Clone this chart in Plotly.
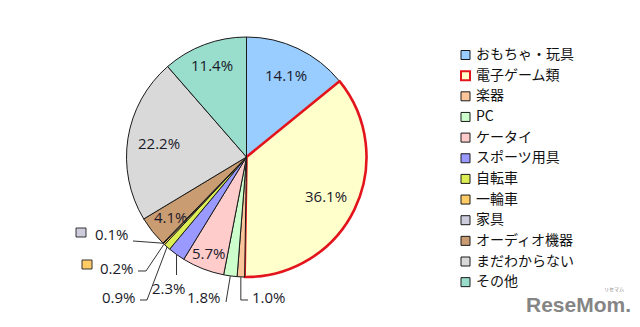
import math
import plotly.graph_objects as go

# ---------------- data ----------------
labels = ["おもちゃ・玩具", "電子ゲーム類", "楽器", "PC", "ケータイ", "スポーツ用具",
          "自転車", "一輪車", "家具", "オーディオ機器", "まだわからない", "その他"]
values = [14.1, 36.1, 1.0, 1.8, 5.7, 2.3, 0.9, 0.2, 0.1, 4.1, 22.2, 11.4]
pct_text = ["14.1%", "36.1%", "1.0%", "1.8%", "5.7%", "2.3%", "0.9%", "0.2%", "0.1%",
            "4.1%", "22.2%", "11.4%"]

# ---------------- style ----------------
colors = ["#99CCFF", "#FFFFCC", "#FAC59A", "#CCFFCC", "#FFCCCC", "#9999FF",
          "#DDEE55", "#FFCC66", "#CCCCDD", "#C99C72", "#D9D9D9", "#99DDCC"]
line_colors = ["#1a1a1a"] * len(values)
line_colors[1] = "#E3141B"
line_widths = [1] * len(values)
line_widths[1] = 2.6

W, H = 640, 327
CX, CY, R = 246.5, 157.0, 120.0
TXT = "#1a1a2a"
NUMFONT = "Open Sans, DejaVu Sans, sans-serif"
JPFONT = "Noto Sans CJK JP, sans-serif"


def px(x):
    return x / W


def py(y):
    return 1 - y / H


# radial fraction for inside labels (None = outside label)
inside_r = [0.76, 0.74, None, None, 0.86, None, None, None, None, 0.80, 0.74, 0.82]

# outside labels: index -> (leader points after the slice edge, text x, text y, anchor)
outside = {
    2: ([(None, 300), (248, 300)], 250, 297, "left"),
    3: ([(226, 302)], 223, 297, "right"),
    5: ([(None, 275)], 169, 288, "center"),
    6: ([(147, 300), (140, 300)], 138, 297, "right"),
    7: ([(146, 271), (138, 271)], 136, 268, "right"),
    8: ([(160, 243), (133, 241)], 131, 234, "right"),
}
# small colour boxes next to some outside labels
outside_box = {7: (82, 260), 8: (76, 228)}

fig = go.Figure()
fig.add_trace(go.Pie(
    labels=labels, values=values, sort=False, direction="clockwise", rotation=0,
    textinfo="none", showlegend=False,
    marker=dict(colors=colors, line=dict(color=line_colors, width=line_widths)),
    domain=dict(x=[px(CX - R), px(CX + R)], y=[py(CY + R), py(CY - R)]),
))

annotations = []
shapes = []

total = sum(values)
cum = 0.0
for i, v in enumerate(values):
    mid = (cum + v / 2) / total * 2 * math.pi
    cum += v
    sx, sy = math.sin(mid), -math.cos(mid)
    if inside_r[i] is not None:
        rr = inside_r[i] * R
        annotations.append(dict(
            x=px(CX + rr * sx), y=py(CY + rr * sy), xref="paper", yref="paper",
            text=pct_text[i], showarrow=False, xanchor="center", yanchor="middle",
            font=dict(family=NUMFONT, size=15, color=TXT)))
    elif i in outside:
        pts, tx, ty, anc = outside[i]
        ex, ey = CX + R * sx, CY + R * sy
        path = "M %f,%f" % (px(ex), py(ey))
        for (qx, qy) in pts:
            qx = ex if qx is None else qx
            path += " L %f,%f" % (px(qx), py(qy))
        shapes.append(dict(type="path", path=path, xref="paper", yref="paper",
                           line=dict(color="#333333", width=1)))
        annotations.append(dict(
            x=px(tx), y=py(ty), xref="paper", yref="paper",
            text=pct_text[i], showarrow=False, xanchor=anc, yanchor="middle",
            font=dict(family=NUMFONT, size=15, color=TXT)))
        if i in outside_box:
            bx, by = outside_box[i]
            shapes.append(dict(type="rect", xref="paper", yref="paper",
                               x0=px(bx), x1=px(bx + 10), y0=py(by + 9), y1=py(by),
                               fillcolor=colors[i], line=dict(color="#333333", width=1)))

# ---------------- manual legend ----------------
LEG_X = 461
LEG_Y0 = 55.0
LEG_DY = 20.65
for i, lab in enumerate(labels):
    yc = LEG_Y0 + LEG_DY * i
    lw = 2 if i == 1 else 1
    shapes.append(dict(type="rect", xref="paper", yref="paper",
                       x0=px(LEG_X), x1=px(LEG_X + 9), y0=py(yc + 4.5), y1=py(yc - 4.5),
                       fillcolor=colors[i], line=dict(color=line_colors[i], width=lw)))
    annotations.append(dict(
        x=px(LEG_X + 13), y=py(yc - 2), xref="paper", yref="paper",
        text=lab, showarrow=False, xanchor="left", yanchor="middle",
        font=dict(family=JPFONT, size=14, color="#111111")))

# ---------------- watermark ----------------
annotations.append(dict(
    x=px(578), y=py(304), xref="paper", yref="paper", text="<b>ReseMom.</b>",
    showarrow=False, xanchor="center", yanchor="middle",
    font=dict(family="Liberation Sans Narrow, Arial Narrow, Liberation Sans, sans-serif",
              size=21, color="#858585")))
annotations.append(dict(
    x=px(614), y=py(289), xref="paper", yref="paper", text="リセマム",
    showarrow=False, xanchor="center", yanchor="middle",
    font=dict(family=JPFONT, size=5, color="#858585")))

fig.update_layout(
    width=W, height=H, margin=dict(l=0, r=0, t=0, b=0),
    paper_bgcolor="white", plot_bgcolor="white",
    annotations=annotations, shapes=shapes, showlegend=False,
)

fig.write_html("out.html")
